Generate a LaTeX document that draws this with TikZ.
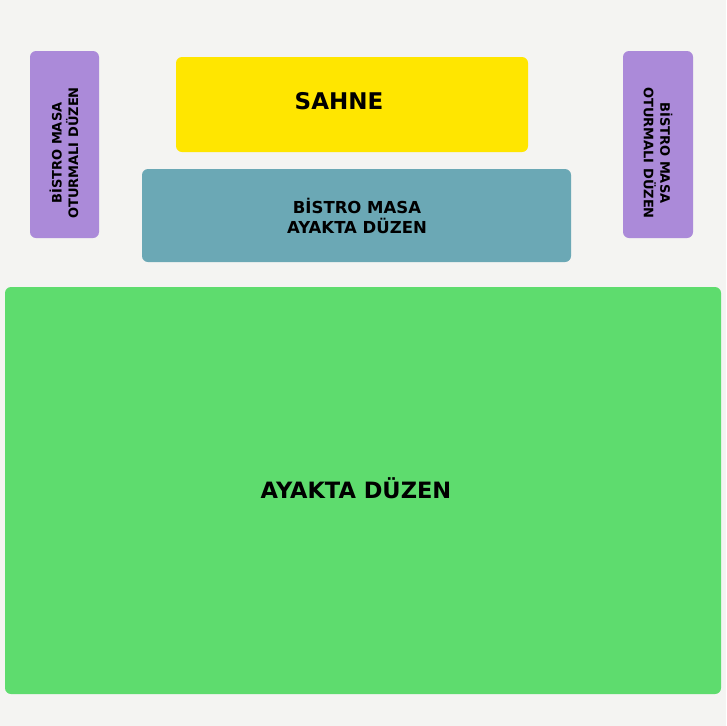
\documentclass[tikz,border=0pt]{standalone}
\usepackage{fontspec}
\setmainfont{DejaVu Sans}
\usepackage{tikz}

\definecolor{bg}{HTML}{F4F4F2}
\definecolor{sahne}{HTML}{FFE600}
\definecolor{bistro}{HTML}{6BA8B5}
\definecolor{oturma}{HTML}{AB8AD9}
\definecolor{ayakta}{HTML}{5EDC6E}

\begin{document}
\begin{tikzpicture}[x=1pt,y=-1pt]
\tikzstyle{every node}=[inner sep=0pt, align=center, text=black]
\tikzstyle{zone}=[rounded corners=6pt]
\fill[bg] (0,0) rectangle (726,726);
\useasboundingbox (0,0) rectangle (726,726);
% alanlar
\fill[zone, oturma] (30,51) rectangle (99,238);
\fill[zone, oturma] (623,51) rectangle (693,238);
\fill[zone, sahne] (176,57) rectangle (528,152);
\fill[zone, bistro] (142,169) rectangle (571,262);
\fill[zone, ayakta] (5,287) rectangle (721,694);
% yazilar
\node at (64,153) [rotate=90, font=\fontsize{13}{16.5}\selectfont\bfseries] (solmasa) {BİSTRO MASA\\OTURMALI DÜZEN};
\node at (658,153) [rotate=-90, font=\fontsize{13}{16.5}\selectfont\bfseries] (sagmasa) {BİSTRO MASA\\OTURMALI DÜZEN};
\node at (339,101.5) [font=\fontsize{23}{28}\selectfont\bfseries] (sahne) {SAHNE};
\node at (357,216) [font=\fontsize{16.5}{20}\selectfont\bfseries] (bistro) {BİSTRO MASA\\AYAKTA DÜZEN};
\node at (356,488) [font=\fontsize{22.5}{27}\selectfont\bfseries] (ayakta) {AYAKTA DÜZEN};
\end{tikzpicture}
\end{document}
